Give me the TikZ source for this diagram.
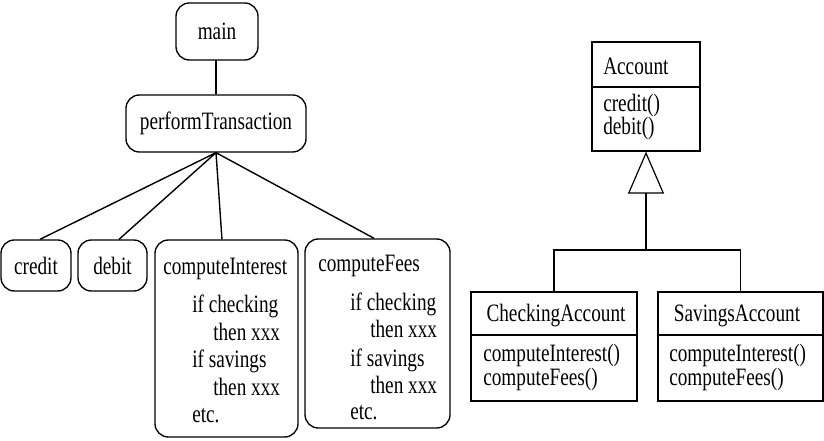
\documentclass[tikz,border=0pt]{standalone}
\usepackage{fontspec}
\setmainfont[FakeStretch=0.77]{Liberation Serif}
\usetikzlibrary{arrows.meta}
\begin{document}
\begin{tikzpicture}[x=0.75pt,y=-0.75pt,
  font=\fontsize{18.75pt}{20pt}\selectfont,
  rbox/.style={draw, rounded corners=10pt, line width=1pt, inner sep=0pt},
  cbox/.style={draw, line width=0.9pt, inner sep=0pt},
  txt/.style={inner sep=0pt, anchor=base west},
  ctxt/.style={inner sep=0pt, anchor=base},
  tree/.style={line width=1.05pt},
  divider/.style={line width=0.9pt},
  inh/.style={line width=0.9pt, -{Triangle[open, length=31.5pt, width=27pt, line width=0.9pt]}}
]
\useasboundingbox (0,0) rectangle (824,441);
\fill[white] (0,0) rectangle (824,441);

% ---------- left: call tree ----------
\node[rbox, minimum width=61.5pt, minimum height=42.75pt] (main) at (217,31.5) {main};
\node[rbox, minimum width=135pt, minimum height=42.75pt] (perf) at (216,123.5) {performTransaction};
\node[rbox, minimum width=52.5pt, minimum height=38.25pt] (credit) at (36,265.5) {credit};
\node[rbox, minimum width=51.75pt, minimum height=38.25pt] (debit) at (112.5,265.5) {debit};
\node[rbox, minimum width=107.25pt, minimum height=147.75pt] (ci) at (226.5,338.5) {};
\node[rbox, minimum width=108.75pt, minimum height=141.75pt] (cf) at (377.5,333.5) {};

\draw[tree] (main.south) -- (perf.south |- main.south) -- (perf.north);
\draw[tree] (perf.south) -- ([xshift=3pt]credit.north);
\draw[tree] (perf.south) -- ([xshift=4.9pt]debit.north);
\draw[tree] (perf.south) -- ([xshift=-3.4pt]ci.north);
\draw[tree] (perf.south) -- ([xshift=-2.6pt]cf.north);

% computeInterest text
\node[txt] (ci0) at (163,275) {computeInterest};
\node[txt] (ci1) at (192,313) {if checking};
\node[txt] (ci2) at (213,341) {then xxx};
\node[txt] (ci3) at (192,368) {if savings};
\node[txt] (ci4) at (213,395) {then xxx};
\node[txt] (ci5) at (192,422) {etc.};

% computeFees text
\node[txt] (cf0) at (318,272) {computeFees};
\node[txt] (cf1) at (350,311) {if checking};
\node[txt] (cf2) at (370,338) {then xxx};
\node[txt] (cf3) at (350,366) {if savings};
\node[txt] (cf4) at (370,393) {then xxx};
\node[txt] (cf5) at (350,419) {etc.};

% ---------- right: class diagram ----------
\node[cbox, minimum width=81pt, minimum height=81.75pt] (acc) at (646,96.5) {};
\draw[divider] (acc.west |- 0,87) -- (acc.east |- 0,87);
\node[txt] (accn) at (603,75) {Account};
\node[txt] (acc1) at (603,112) {credit()};
\node[txt] (acc2) at (603,135) {debit()};

\node[cbox, minimum width=124.5pt, minimum height=81.75pt] (chk) at (554,346.5) {};
\draw[divider] (chk.west |- 0,335) -- (chk.east |- 0,335);
\node[ctxt] (chkn) at (556,322) {CheckingAccount};
\node[txt] (chk1) at (483,361) {computeInterest()};
\node[txt] (chk2) at (483,385) {computeFees()};

\node[cbox, minimum width=123.75pt, minimum height=81.75pt] (sav) at (740.5,346.5) {};
\draw[divider] (sav.west |- 0,335) -- (sav.east |- 0,335);
\node[ctxt] (savn) at (737,322) {SavingsAccount};
\node[txt] (sav1) at (669,361) {computeInterest()};
\node[txt] (sav2) at (669,385) {computeFees()};

\coordinate (junc) at (646,250);
\draw[inh] (chk.north) |- (junc) -- (acc.south);
\draw[divider] (sav.north) |- (junc);
\end{tikzpicture}
\end{document}
